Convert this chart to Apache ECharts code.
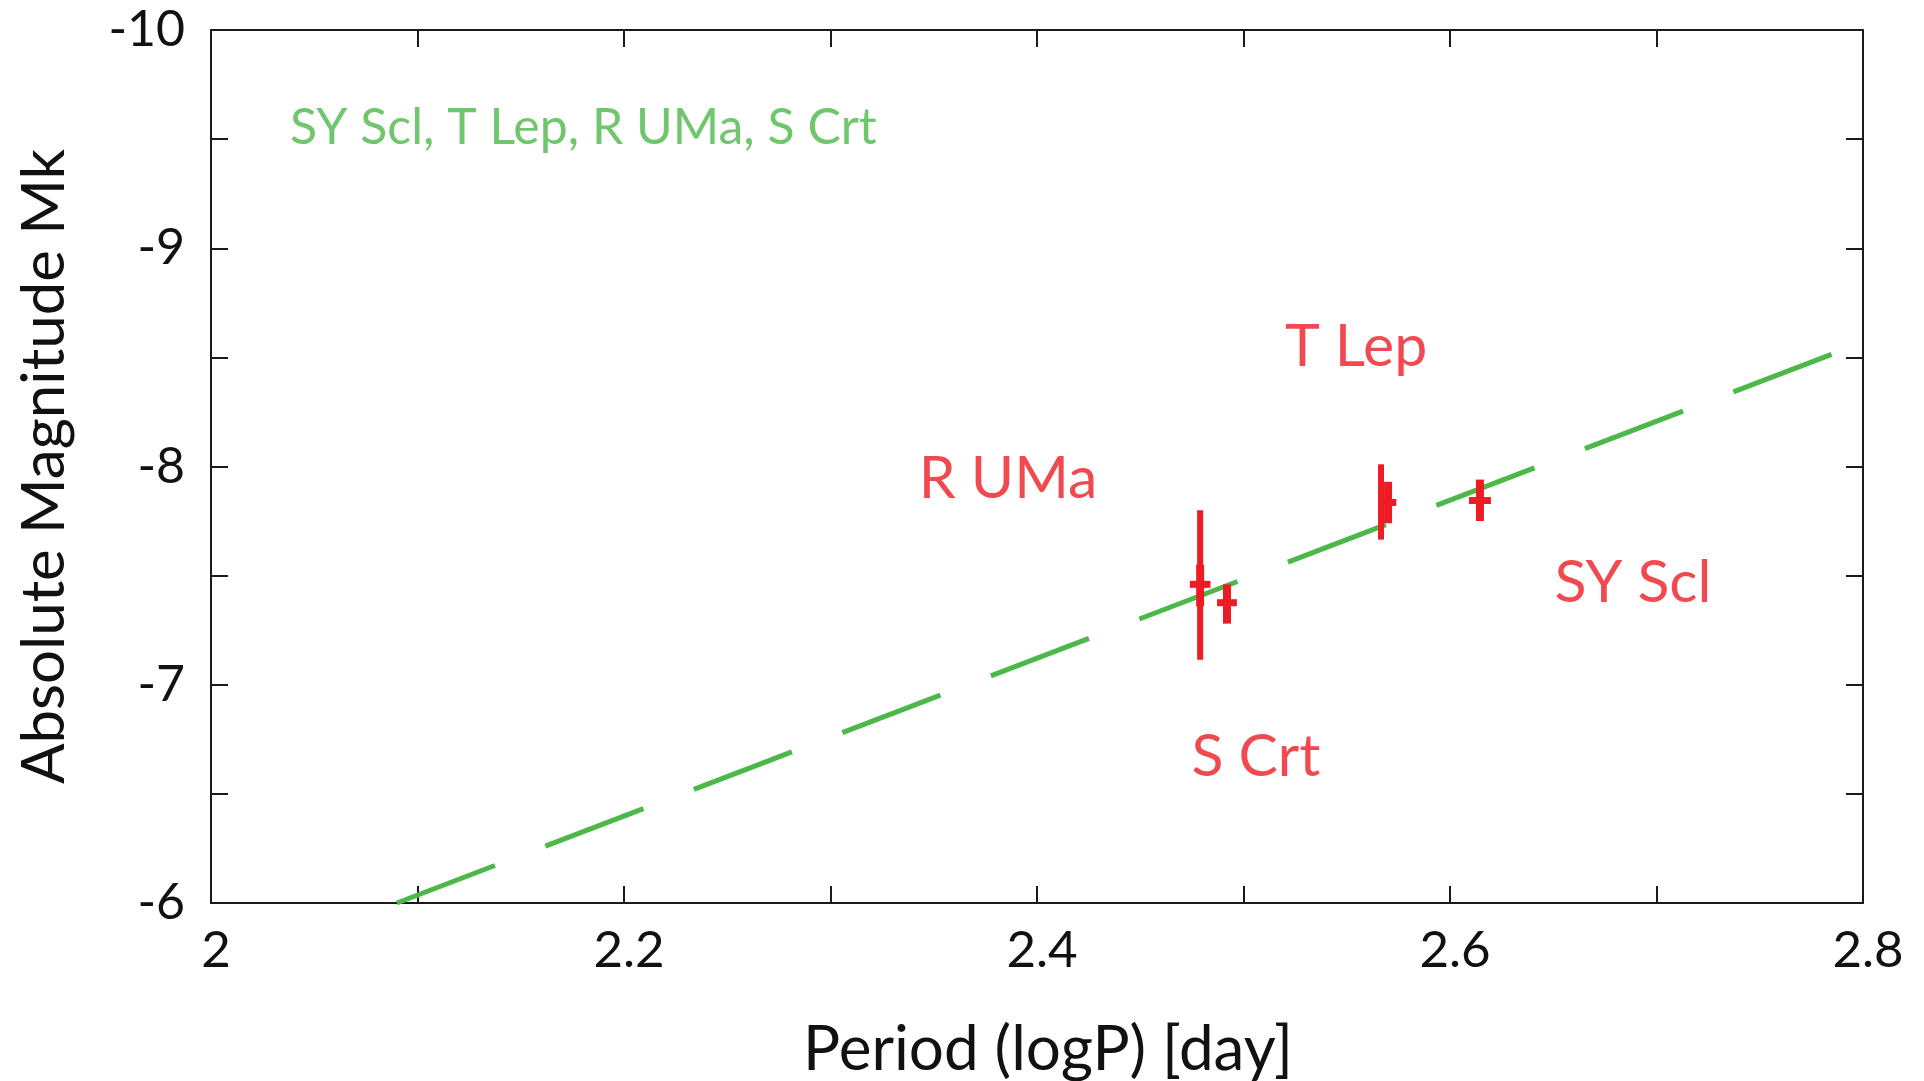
<!DOCTYPE html>
<html>
<head>
<meta charset="utf-8">
<script src="https://cdn.jsdelivr.net/npm/echarts@6/dist/echarts.min.js"></script>
<style>
  html, body { margin: 0; padding: 0; background: #fff; }
  #chartPL { width: 1924px; height: 1081px; }
</style>
</head>
<body>
<div id="chartPL"></div>
<script>
// ---------------------------------------------------
// Datos
// ---------------------------------------------------
const xTicks = [2, 2.2, 2.4, 2.6, 2.8];
const yTicks = [-10, -9, -8, -7, -6];

// relacion P-L (recta discontinua), extremos
const fitLogP = [2.09, 2.785];
const fitMag = [-6.0, -8.515];

// barras de error: logP, magnitud alta, magnitud baja, centro, semiancho en logP
const errLogP = [2.479, 2.479, 2.492, 2.5666, 2.570, 2.6145];
const errUpper = [-7.80, -7.55, -7.46, -8.01, -7.93, -7.94];
const errLower = [-7.115, -7.36, -7.28, -7.665, -7.74, -7.75];
const errCenter = [-7.46, -7.46, -7.376, -7.84, -7.835, -7.844];
const errHalfW = [0, 0.005, 0.0048, 0, 0.004, 0.0053];

// etiquetas de estrellas
const starNames = ['T Lep', 'R UMa', 'SY Scl', 'S Crt'];
const starLabelX = [2.5545, 2.386, 2.6886, 2.506];
const starLabelY = [-8.546, -7.945, -7.468, -6.67];

const groupText = 'SY Scl, T Lep, R UMa, S Crt';
const groupTextPos = [2.038, -9.55];

// ---------------------------------------------------
const green = '#4cb848';
const red = '#ed1c24';
const axisColor = '#1a1a1a';
const fontFam = 'Lato, "Open Sans", sans-serif';

const chart = echarts.init(document.getElementById('chartPL'));

const errData = errLogP.map((x, i) => [x, errUpper[i], errLower[i], errCenter[i], errHalfW[i]]);

function renderErrorBar(params, api) {
  const x = api.value(0);
  const hw = api.value(4);
  const p1 = api.coord([x, api.value(1)]);
  const p2 = api.coord([x, api.value(2)]);
  const w = hw > 0 ? 8 : 6;
  const children = [{
    type: 'line',
    shape: { x1: p1[0], y1: p1[1], x2: p2[0], y2: p2[1] },
    style: { stroke: red, lineWidth: w }
  }];
  if (hw > 0) {
    const c1 = api.coord([x - hw, api.value(3)]);
    const c2 = api.coord([x + hw, api.value(3)]);
    children.push({
      type: 'line',
      shape: { x1: c1[0], y1: c1[1], x2: c2[0], y2: c2[1] },
      style: { stroke: red, lineWidth: 7 }
    });
  }
  return { type: 'group', children: children };
}

const tickCommon = { show: true, inside: true, length: 17, lineStyle: { color: axisColor, width: 2 } };
const lineCommon = { show: true, onZero: false, lineStyle: { color: axisColor, width: 2 } };

const option = {
  animation: false,
  backgroundColor: '#fff',
  grid: {
    left: 211, top: 30, width: 1652, height: 873,
    containLabel: false, outerBoundsMode: 'none'
  },
  xAxis: [{
    type: 'value', min: 2, max: 2.8, interval: 0.1, position: 'bottom',
    axisLine: lineCommon, axisTick: tickCommon, splitLine: { show: false },
    axisLabel: {
      margin: 22, fontSize: 51, color: '#111', fontFamily: fontFam, padding: [0, 0, 0, 10],
      formatter: v => {
        const t = Math.round(v * 10) / 10;
        return xTicks.some(k => Math.abs(k - t) < 1e-6) ? String(t) : '';
      }
    },
    name: 'Period (logP) [day]', nameLocation: 'middle', nameGap: 116,
    nameTextStyle: { fontSize: 62, color: '#111', fontFamily: fontFam, padding: [0, 0, 0, 22] }
  }, {
    type: 'value', min: 2, max: 2.8, interval: 0.1, position: 'top',
    axisLine: lineCommon, axisTick: tickCommon, axisLabel: { show: false }, splitLine: { show: false }
  }],
  yAxis: [{
    type: 'value', min: -10, max: -6, interval: 0.5, inverse: true, position: 'left',
    axisLine: lineCommon, axisTick: tickCommon, splitLine: { show: false },
    axisLabel: {
      margin: 26, fontSize: 50, color: '#111', fontFamily: fontFam,
      formatter: v => yTicks.indexOf(v) >= 0 ? String(v) : ''
    },
    name: 'Absolute Magnitude Mk', nameLocation: 'middle', nameGap: 136, nameRotate: 90,
    nameTextStyle: { fontSize: 60, color: '#111', fontFamily: fontFam }
  }, {
    type: 'value', min: -10, max: -6, interval: 0.5, inverse: true, position: 'right',
    axisLine: lineCommon, axisTick: tickCommon, axisLabel: { show: false }, splitLine: { show: false }
  }],
  series: [{
    name: 'fit',
    type: 'line',
    data: fitLogP.map((x, i) => [x, fitMag[i]]),
    showSymbol: false,
    symbol: 'none',
    lineStyle: { color: green, width: 5, type: [105, 54] },
    z: 2
  }, {
    name: 'errores',
    type: 'custom',
    renderItem: renderErrorBar,
    data: errData,
    z: 3
  }, {
    name: 'etiquetas',
    type: 'scatter',
    symbolSize: 1,
    itemStyle: { color: 'rgba(0,0,0,0)' },
    data: starNames.map((n, i) => ({ name: n, value: [starLabelX[i], starLabelY[i]] })),
    label: {
      show: true, position: 'inside', formatter: '{b}',
      fontSize: 59, color: red, fontFamily: fontFam
    },
    z: 4
  }, {
    name: 'grupo',
    type: 'scatter',
    symbolSize: 1,
    itemStyle: { color: 'rgba(0,0,0,0)' },
    data: [{ name: groupText, value: groupTextPos }],
    label: {
      show: true, position: 'right', distance: 0, formatter: '{b}',
      fontSize: 50, color: green, fontFamily: fontFam
    },
    z: 4
  }]
};

chart.setOption(option);
</script>
</body>
</html>
